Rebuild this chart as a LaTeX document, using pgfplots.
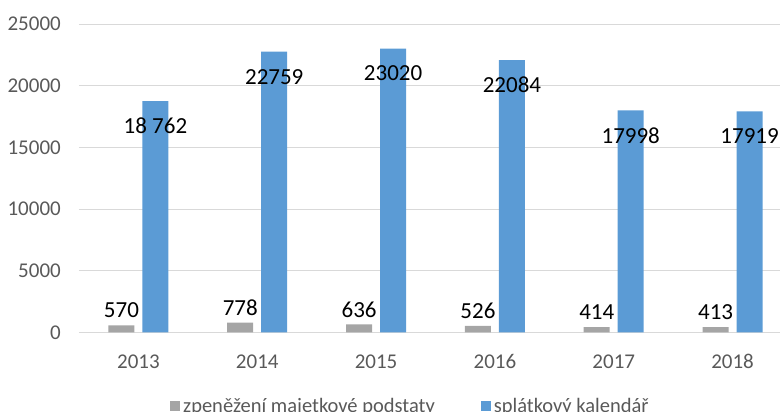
\documentclass[border=0pt]{standalone}
\usepackage{pgfplots}
\pgfplotsset{compat=1.18}
\usepackage{fontspec}
\setmainfont{Carlito}
\usetikzlibrary{calc}
\definecolor{barblue}{HTML}{5B9BD5}
\definecolor{bargray}{HTML}{A5A5A5}
\definecolor{gridgray}{HTML}{D9D9D9}
\definecolor{labelgray}{HTML}{595959}

\begin{document}
\begin{tikzpicture}
\begin{axis}[
    scale only axis, width=713pt, height=308.2pt,
    ybar=8pt, bar width=26pt,
    xmin=-0.5, xmax=5.5, ymin=0, ymax=25000,
    xtick={0,...,5}, xticklabels={2013,2014,2015,2016,2017,2018},
    ytick={0,5000,...,25000},
    scaled y ticks=false,
    major tick length=0pt,
    ymajorgrids, grid style={gridgray, line width=1pt},
    axis x line*=bottom, axis y line*=left,
    x axis line style={gridgray, line width=1.3pt, -},
    y axis line style={draw=none},
    clip=false,
    ticklabel style={font=\fontsize{21}{25}\selectfont, text=labelgray, inner sep=0pt},
    yticklabel style={anchor=east, xshift=-18pt},
    xticklabel style={anchor=north, yshift=-22pt},
    /pgf/number format/1000 sep={},
    /pgf/number format/assume math mode=true,
    legend style={at={(rel axis cs:0.1276,-0.239)}, anchor=west, draw=none, fill=none,
        legend columns=2, font=\fontsize{20.5}{24}\selectfont, text=labelgray,
        inner sep=0pt, nodes={inner sep=3pt},
        /tikz/every even column/.append style={column sep=43pt}},
    legend image code/.code={\fill[#1] (0pt,-5pt) rectangle (10pt,5pt);},
]
\coordinate (sw) at (rel axis cs:0,0);

% zpenezeni majetkove podstaty
\addplot[fill=bargray, draw=none, nodes near coords,
    every node near coord/.append style={anchor=south, inner sep=0pt, yshift=7pt,
        font=\fontsize{23}{27}\selectfont, text=black}]
    coordinates {(0,570) (1,778) (2,636) (3,526) (4,414) (5,413)};
\addlegendentry{zpeněžení majetkové podstaty}

% splatkovy kalendar
\addplot[fill=barblue, draw=none, nodes near coords, point meta=explicit symbolic,
    every node near coord/.append style={anchor=center, inner sep=0pt, yshift=-25pt,
        font=\fontsize{23}{27}\selectfont, text=black}]
    coordinates {(0,18762) [18 762] (1,22759) [22759] (2,23020) [23020]
                 (3,22084) [22084] (4,17998) [17998] (5,17919) [17919]};
\addlegendentry{splátkový kalendář}
\end{axis}
\pgfresetboundingbox
\path[use as bounding box] ($(sw)+(-79pt,-79.7pt)$) rectangle ($(sw)+(701pt,332.3pt)$);
\end{tikzpicture}
\end{document}
